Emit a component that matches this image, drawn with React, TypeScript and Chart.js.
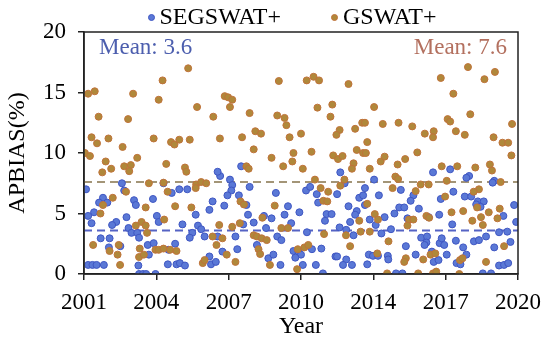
import React, { useEffect, useRef } from "react";
import { Chart, registerables } from "chart.js";

Chart.register(...registerables);

// ---------- data ----------
const seriesNames = ["SEGSWAT+", "GSWAT+"];
const xTickValues = [2001, 2004.1667, 2007.3333, 2010.5, 2013.6667, 2016.8333, 2020];
const xTickLabels = ["2001", "2004", "2007", "2010", "2014", "2017", "2020"];
const yTickValues = [0, 5, 10, 15, 20];
const meanValues = [3.6, 7.6];

// SEGSWAT+ : [year, APBIAS %]
const segPoints: [number, number][] = [
  [2001.09, 7.0], [2001.83, 6.3], [2001.66, 5.9], [2002.02, 5.9], [2002.66, 7.5], [2002.76, 6.9],
  [2003.19, 6.1], [2003.27, 5.7], [2001.44, 5.1], [2001.18, 4.8], [2001.33, 4.2], [2002.41, 4.3],
  [2002.23, 4.05], [2002.86, 4.7], [2002.95, 3.8], [2003.08, 3.4], [2003.33, 3.4], [2001.73, 2.95],
  [2002.12, 2.95], [2002.59, 2.3], [2002.09, 2.2], [2001.18, 0.75], [2001.37, 0.75], [2001.55, 0.75],
  [2001.87, 0.75], [2003.38, 0.7], [2003.41, 0], [2003.58, 0], [2003.72, 0], [2003.79, 2.4],
  [2003.41, 3.0],
  [2004.02, 6.2], [2004.48, 7.5], [2004.84, 6.7], [2005.17, 7.0], [2005.52, 7.0], [2006.63, 6.0],
  [2004.19, 4.8], [2004.27, 4.3], [2005.31, 4.1], [2005.89, 4.9], [2006.49, 5.3], [2005.99, 4.0],
  [2005.74, 3.4], [2005.63, 3.0], [2006.13, 3.7], [2006.28, 3.1], [2004.05, 2.55], [2004.99, 2.5],
  [2004.70, 2.0], [2003.84, 1.6], [2004.67, 0.8], [2005.05, 0.8], [2005.20, 0.9], [2005.42, 0.7],
  [2006.56, 0.8], [2006.77, 1.0], [2006.49, 1.45], [2004.13, 0], [2007.06, 1.85],
  [2006.96, 8.1], [2007.39, 7.8], [2007.49, 7.35], [2007.45, 6.9], [2007.28, 6.5], [2006.85, 8.45],
  [2007.88, 8.9], [2008.25, 7.2], [2007.78, 6.5], [2007.14, 5.65], [2008.11, 5.7], [2008.18, 4.9],
  [2008.43, 4.25], [2008.88, 4.8], [2009.21, 4.6], [2009.40, 6.7], [2009.93, 5.6], [2009.78, 4.9],
  [2007.97, 4.1], [2008.97, 3.8], [2007.63, 3.1], [2009.46, 3.1], [2009.64, 2.8], [2008.57, 2.4],
  [2006.85, 3.1], [2007.71, 2.05], [2009.07, 1.3], [2009.29, 1.6], [2009.60, 0.75], [2010.17, 1.9],
  [2012.22, 8.4], [2010.72, 6.9], [2010.90, 7.2], [2011.19, 6.6], [2011.25, 5.9], [2012.41, 7.5],
  [2012.08, 6.6], [2013.05, 6.3], [2013.22, 6.5], [2012.58, 5.6], [2012.94, 5.2], [2012.87, 4.9],
  [2010.43, 5.1], [2011.62, 4.95], [2011.84, 4.95], [2011.55, 4.4], [2012.65, 4.3], [2012.19, 3.85],
  [2010.07, 4.2], [2013.51, 4.5], [2010.76, 3.45], [2012.48, 3.65], [2012.80, 3.2], [2010.39, 1.85],
  [2010.50, 1.6], [2010.25, 1.35], [2010.98, 2.05], [2011.39, 2.1], [2010.58, 0.75], [2011.15, 0.75],
  [2012.01, 1.45], [2012.08, 1.45], [2012.48, 1.2], [2012.34, 0.75], [2012.73, 0.75], [2013.40, 0.8],
  [2011.46, 0.05],
  [2013.70, 7.8], [2016.28, 8.4], [2013.30, 7.1], [2014.87, 6.95], [2015.42, 6.5], [2015.30, 6.05],
  [2013.91, 6.5], [2016.62, 6.2], [2014.80, 5.5], [2015.02, 5.5], [2014.59, 5.0], [2015.66, 5.4],
  [2013.30, 5.7], [2014.16, 4.7], [2015.16, 4.6], [2016.09, 4.7], [2013.77, 4.05], [2014.44, 3.7],
  [2014.02, 3.35], [2015.76, 3.0], [2016.02, 3.1], [2015.99, 2.6], [2015.91, 2.4], [2016.57, 2.55],
  [2015.09, 2.3], [2013.47, 1.6], [2013.65, 1.5], [2013.87, 1.5], [2014.30, 1.5], [2014.32, 1.2],
  [2015.52, 1.6], [2016.23, 1.85], [2016.31, 1.0], [2016.52, 1.15], [2014.66, 0.05], [2014.94, 0.05],
  [2017.03, 8.65], [2017.86, 8.1], [2017.74, 7.95], [2018.96, 7.7], [2018.89, 7.55], [2017.17, 6.8],
  [2017.67, 6.4], [2017.95, 6.4], [2018.24, 6.0], [2018.50, 6.0], [2018.17, 5.75], [2018.36, 5.55],
  [2019.36, 4.8], [2016.55, 4.9], [2017.12, 4.1], [2019.53, 3.5], [2019.17, 3.45], [2016.66, 2.95],
  [2016.77, 2.4], [2017.28, 2.75], [2018.07, 2.7], [2018.29, 2.8], [2018.60, 3.1], [2017.60, 2.2],
  [2018.96, 2.2], [2019.67, 2.65], [2016.88, 1.6], [2017.74, 1.6], [2017.31, 0.9], [2017.48, 0.8],
  [2019.17, 0.7], [2019.39, 0.75], [2018.46, 0.05], [2018.82, 0.05], [2019.57, 0.9], [2019.83, 5.7],
  [2019.92, 4.3],
];

// GSWAT+ : [year, APBIAS %]
const gsPoints: [number, number][] = [
  [2001.18, 14.9], [2001.47, 15.1], [2003.15, 14.9], [2001.64, 13.0], [2002.93, 12.8], [2001.33, 11.3],
  [2001.57, 10.8], [2002.07, 11.2], [2002.69, 10.5], [2001.04, 10.0], [2001.26, 9.75], [2001.95, 9.3],
  [2001.80, 8.4], [2002.19, 8.7], [2002.76, 8.9], [2003.05, 9.0], [2002.98, 8.5], [2003.33, 9.6],
  [2002.84, 6.8], [2002.26, 6.3], [2001.83, 5.7], [2001.72, 5.0], [2001.40, 2.4], [2002.12, 1.9],
  [2002.52, 2.4], [2002.47, 1.6], [2002.58, 0.75], [2003.44, 2.1], [2003.52, 4.3], [2003.70, 4.0],
  [2003.41, 1.4], [2003.27, 4.0],
  [2005.56, 17.0], [2004.44, 16.0], [2004.27, 14.4], [2005.95, 13.8], [2006.66, 13.0], [2004.05, 11.2],
  [2004.81, 10.9], [2004.96, 10.7], [2005.17, 11.1], [2005.63, 11.1], [2006.95, 11.2], [2004.60, 9.1],
  [2005.42, 8.8], [2005.48, 8.45], [2003.84, 7.5], [2004.48, 7.55], [2005.91, 7.4], [2006.13, 7.6],
  [2006.35, 7.5], [2004.66, 6.8], [2005.89, 7.1], [2003.70, 5.5], [2004.99, 5.6], [2005.70, 5.5],
  [2004.51, 4.5], [2003.76, 3.4], [2004.13, 2.0], [2004.27, 2.0], [2004.48, 2.1], [2004.77, 2.0],
  [2005.05, 1.9], [2006.20, 0.9], [2006.28, 1.15], [2006.63, 3.1], [2006.80, 2.4], [2007.06, 2.95],
  [2003.62, 1.6],
  [2009.53, 15.95], [2007.16, 14.7], [2007.31, 14.6], [2007.49, 14.4], [2007.39, 13.8], [2008.25, 13.3],
  [2009.46, 13.1], [2009.78, 12.9], [2009.86, 12.3], [2010.00, 11.3], [2007.92, 11.3], [2008.50, 11.8],
  [2008.75, 11.6], [2008.43, 10.3], [2009.21, 9.6], [2009.72, 8.9], [2010.17, 10.0], [2010.12, 9.3],
  [2008.11, 8.9], [2008.21, 8.7], [2007.85, 6.0], [2008.00, 5.75], [2009.35, 5.65], [2006.92, 4.05],
  [2007.49, 3.9], [2007.82, 4.2], [2008.81, 4.65], [2009.64, 3.8], [2009.93, 3.8], [2008.43, 3.2],
  [2008.57, 3.1], [2008.78, 2.95], [2009.00, 2.8], [2007.25, 1.6], [2008.64, 2.05], [2008.71, 1.65],
  [2007.63, 1.0], [2009.14, 0.75],
  [2010.75, 16.0], [2011.05, 16.3], [2011.29, 16.0], [2012.58, 15.7], [2011.22, 13.75], [2011.87, 14.0],
  [2011.79, 13.0], [2013.18, 12.5], [2010.50, 11.6], [2012.19, 11.9], [2012.05, 11.5], [2012.87, 12.0],
  [2013.40, 10.9], [2010.96, 10.1], [2011.91, 9.8], [2012.12, 9.5], [2012.32, 9.75], [2012.94, 10.25],
  [2013.22, 10.0], [2012.80, 9.15], [2012.73, 8.7], [2010.58, 8.7], [2013.51, 8.7], [2011.11, 7.8],
  [2012.40, 7.8], [2012.22, 7.3], [2011.36, 7.1], [2011.69, 6.8], [2011.48, 6.05], [2011.65, 6.0],
  [2013.40, 5.8], [2013.05, 4.4], [2011.51, 3.3], [2012.47, 3.2], [2012.65, 2.3], [2013.11, 3.5],
  [2010.36, 2.05], [2010.65, 2.2], [2010.82, 2.4], [2010.33, 0.4],
  [2016.62, 16.2], [2013.70, 13.8], [2014.08, 12.4], [2014.77, 12.5], [2015.37, 12.2], [2015.92, 11.6],
  [2016.31, 11.8], [2016.28, 11.3], [2013.30, 12.5], [2015.59, 10.05], [2013.34, 10.0], [2013.99, 9.3],
  [2014.16, 9.7], [2015.06, 9.5], [2014.73, 9.05], [2016.66, 8.9], [2014.63, 8.05], [2014.75, 7.85],
  [2014.51, 7.1], [2015.52, 6.85], [2015.74, 7.4], [2016.09, 7.4], [2013.73, 4.95], [2013.87, 4.5],
  [2015.23, 4.5], [2015.42, 4.5], [2015.16, 4.0], [2015.99, 4.8], [2016.11, 4.65], [2013.51, 3.5],
  [2014.33, 2.7], [2013.84, 1.7], [2015.09, 1.3], [2015.02, 1.0], [2015.85, 1.2], [2016.17, 1.6],
  [2016.38, 1.7], [2014.27, 0.05], [2015.63, 0.05], [2016.28, 0.05], [2016.42, 0.2],
  [2017.81, 17.1], [2018.99, 16.7], [2018.53, 16.1], [2017.17, 14.9], [2017.91, 13.2], [2016.92, 12.8],
  [2017.03, 12.6], [2019.74, 12.4], [2017.28, 11.8], [2017.67, 11.5], [2018.93, 11.3], [2019.32, 10.85],
  [2019.57, 10.85], [2019.71, 9.8], [2017.34, 8.9], [2018.13, 8.8], [2018.77, 9.05], [2018.86, 8.55],
  [2016.88, 7.7], [2019.24, 7.6], [2018.29, 7.0], [2018.06, 6.8], [2016.81, 6.4], [2018.21, 5.5],
  [2017.09, 5.1], [2017.60, 5.2], [2018.72, 5.1], [2019.20, 5.4], [2018.00, 4.4], [2018.38, 4.7],
  [2018.46, 4.05], [2019.10, 4.6], [2017.46, 1.15], [2017.57, 1.3], [2018.60, 1.0], [2019.39, 2.3],
  [2017.43, 0],
];

// ---------- styles ----------
const FONT = "'Liberation Serif', 'Times New Roman', serif";
const BLUE_FILL = "#5a78d6";
const BLUE_EDGE = "#3f56c2";
const BROWN_FILL = "#b0883a";
const BROWN_EDGE = "#c0723a";
const BLUE_DASH = "#5563c4";
const BROWN_DASH = "#a39577";
const BLUE_TEXT = "#4c5eae";
const BROWN_TEXT = "#b3705f";

const framePlugin = {
  id: "frame",
  afterDraw(chart: any) {
    const { ctx, chartArea } = chart;
    ctx.save();
    ctx.strokeStyle = "#222";
    ctx.lineWidth = 1.5;
    ctx.strokeRect(chartArea.left, chartArea.top, chartArea.right - chartArea.left, chartArea.bottom - chartArea.top);
    ctx.restore();
  },
};

const meanTextPlugin = {
  id: "meanText",
  afterDraw(chart: any) {
    const { ctx, chartArea } = chart;
    ctx.save();
    ctx.font = `23px ${FONT}`;
    ctx.textBaseline = "alphabetic";
    ctx.fillStyle = BLUE_TEXT;
    ctx.textAlign = "left";
    ctx.fillText(`Mean: ${meanValues[0]}`, chartArea.left + 15, chartArea.top + 22);
    ctx.fillStyle = BROWN_TEXT;
    ctx.textAlign = "right";
    ctx.fillText(`Mean: ${meanValues[1]}`, chartArea.right - 11, chartArea.top + 22);
    ctx.restore();
  },
};

export default function App() {
  const canvasRef = useRef<HTMLCanvasElement | null>(null);

  useEffect(() => {
    const canvas = canvasRef.current;
    if (!canvas) return;
    const chart = new Chart(canvas, {
      type: "scatter",
      data: {
        datasets: [
          {
            label: seriesNames[0],
            data: segPoints.map(([x, y]) => ({ x, y })),
            backgroundColor: BLUE_FILL,
            borderColor: BLUE_EDGE,
            borderWidth: 1,
            pointRadius: 3.5,
            order: 2,
          },
          {
            label: seriesNames[1],
            data: gsPoints.map(([x, y]) => ({ x, y })),
            backgroundColor: BROWN_FILL,
            borderColor: BROWN_EDGE,
            borderWidth: 1,
            pointRadius: 3.5,
            order: 1,
          },
          {
            type: "line",
            label: "mean1",
            data: [
              { x: xTickValues[0], y: meanValues[0] },
              { x: xTickValues[xTickValues.length - 1], y: meanValues[0] },
            ],
            borderColor: BLUE_DASH,
            borderWidth: 2,
            borderDash: [8, 5],
            pointRadius: 0,
            showLine: true,
            order: 5,
          },
          {
            type: "line",
            label: "mean2",
            data: [
              { x: xTickValues[0], y: meanValues[1] },
              { x: xTickValues[xTickValues.length - 1], y: meanValues[1] },
            ],
            borderColor: BROWN_DASH,
            borderWidth: 2,
            borderDash: [8, 5],
            pointRadius: 0,
            showLine: true,
            order: 5,
          },
        ] as any,
      },
      options: {
        animation: false,
        responsive: false,
        layout: { padding: { top: 32, right: 27, left: 0, bottom: 0 } },
        plugins: { legend: { display: false }, tooltip: { enabled: false } },
        scales: {
          x: {
            type: "linear",
            min: xTickValues[0],
            max: xTickValues[xTickValues.length - 1],
            afterBuildTicks: (s: any) => {
              s.ticks = xTickValues.map((v) => ({ value: v }));
            },
            afterFit: (s: any) => {
              s.height = 65;
            },
            ticks: {
              autoSkip: false,
              maxRotation: 0,
              color: "#000",
              padding: 9,
              font: { family: FONT, size: 23 },
              callback: (_v: any, i: number) => xTickLabels[i],
            },
            grid: { drawOnChartArea: false, drawTicks: true, tickLength: 6, color: "#222", lineWidth: 1.5 },
            border: { display: true, color: "#222", width: 1.5 },
            title: {
              display: true,
              text: "Year",
              color: "#000",
              font: { family: FONT, size: 24, lineHeight: 1 },
              padding: 0,
            },
          },
          y: {
            type: "linear",
            min: yTickValues[0],
            max: yTickValues[yTickValues.length - 1],
            afterBuildTicks: (s: any) => {
              s.ticks = yTickValues.map((v) => ({ value: v }));
            },
            afterFit: (s: any) => {
              s.width = 84;
            },
            ticks: {
              color: "#000",
              padding: 12,
              font: { family: FONT, size: 23 },
            },
            grid: { drawOnChartArea: false, drawTicks: true, tickLength: 6, color: "#222", lineWidth: 1.5 },
            border: { display: true, color: "#222", width: 1.5 },
            title: {
              display: true,
              text: "APBIAS(%)",
              color: "#000",
              font: { family: FONT, size: 24, lineHeight: 1.2 },
              padding: { top: 3, bottom: 0 },
            },
          },
        },
      } as any,
      plugins: [framePlugin, meanTextPlugin],
    });
    return () => chart.destroy();
  }, []);

  const legendColors = [
    [BLUE_FILL, BLUE_EDGE],
    [BROWN_FILL, BROWN_EDGE],
  ];
  const legendLeft = [147.5, 331];

  return (
    <div style={{ position: "fixed", left: 0, top: 0, width: 550, height: 339, background: "#fff" }}>
      <canvas ref={canvasRef} width={550} height={339} style={{ position: "absolute", left: 0, top: 0 }} />
      {seriesNames.map((name, i) => (
        <div
          key={name}
          style={{
            position: "absolute",
            left: legendLeft[i],
            top: 4,
            height: 24,
            display: "flex",
            alignItems: "center",
            fontFamily: FONT,
            fontSize: 24,
            lineHeight: "24px",
            color: "#000",
            whiteSpace: "nowrap",
          }}
        >
          <span
            style={{
              display: "inline-block",
              width: 5,
              height: 5,
              borderRadius: "50%",
              background: legendColors[i][0],
              border: `1px solid ${legendColors[i][1]}`,
              marginRight: 5,
              marginTop: 2,
            }}
          />
          <span>{name}</span>
        </div>
      ))}
    </div>
  );
}
